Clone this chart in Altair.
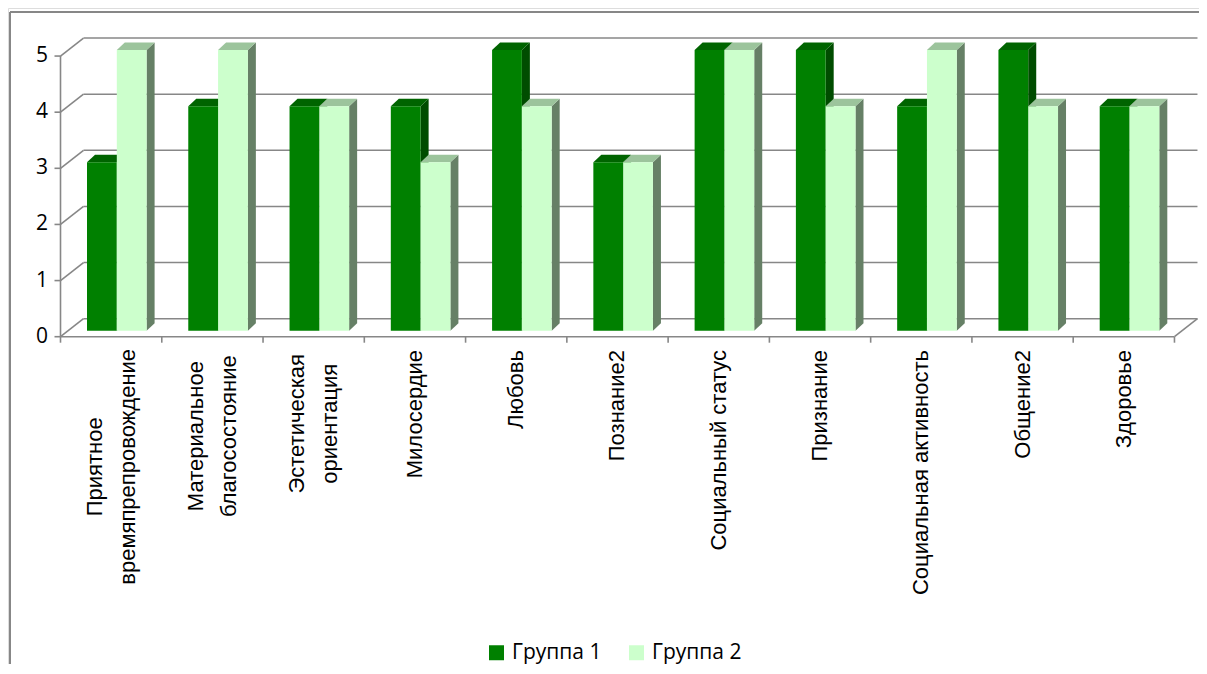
import altair as alt
import pandas as pd

# ---------------- data ----------------
categories = [
    "Приятное\nвремяпрепровождение",
    "Материальное\nблагосостояние",
    "Эстетическая\nориентация",
    "Милосердие",
    "Любовь",
    "Познание2",
    "Социальный статус",
    "Признание",
    "Социальная активность",
    "Общение2",
    "Здоровье",
]
group1 = [3, 4, 4, 4, 5, 3, 5, 5, 4, 5, 4]
group2 = [5, 5, 4, 3, 4, 3, 5, 4, 5, 4, 4]
series = ["Группа 1", "Группа 2"]
y_ticks = [0, 1, 2, 3, 4, 5]

# ---------------- geometry (pixels) ----------------
W, H = 1191, 656          # view size (page origin at 8,8)
ORG = 8
PX_X0, PX_XS = 60.5, 101.27   # page x of category 0, px per category
PX_Y0, PX_YS = 336.7, 56.13   # page y of value 0, px per value unit

def ux(px):
    return (px - PX_X0) / PX_XS

def vy(px):
    return (PX_Y0 - px) / PX_YS

xs = alt.Scale(domain=[ux(ORG), ux(ORG + W)], nice=False, zero=False)
ys = alt.Scale(domain=[vy(ORG + H), vy(ORG)], nice=False, zero=False)

BX, BY = 23 / PX_XS, 18 / PX_YS       # back wall offset
DX, DY = 8 / PX_XS, 7.5 / PX_YS       # bar depth
BASE = 6 / PX_YS                       # bar base lift
LEFT = 26.5 / PX_XS                    # first bar offset in category
BW = 29.8 / PX_XS                      # bar width
n = len(categories)

GRID = "#878787"
FRONT = {"Группа 1": "#008000", "Группа 2": "#ccffcc"}
TOP = {"Группа 1": "#006400", "Группа 2": "#9cc49c"}
SIDE = {"Группа 1": "#004c00", "Группа 2": "#668066"}

# ---------------- segments (walls, axes, ticks) ----------------
seg = []
for v in y_ticks:
    seg.append((BX, v + BY, n + BX, v + BY))      # back wall grid
    seg.append((0, v, BX, v + BY))                # left wall diagonal
    seg.append((-6 / PX_XS, v, 0, v))             # y tick
seg.append((0, 0, 0, max(y_ticks)))               # y axis line
seg.append((0, 0, n, 0))                          # x axis line (floor front)
seg.append((n, 0, n + BX, BY))                    # floor right edge
for i in range(n + 1):
    seg.append((i, 0, i, -6 / PX_YS))             # x ticks
seg_df = pd.DataFrame(seg, columns=["xa", "ya", "xb", "yb"])

segments = alt.Chart(seg_df).mark_rule(color=GRID, strokeWidth=1.6).encode(
    x=alt.X("xa:Q", scale=xs, axis=None),
    x2="xb:Q",
    y=alt.Y("ya:Q", scale=ys, axis=None),
    y2="yb:Q",
)

# ---------------- bars ----------------
fronts, faces = [], []
pid = 0
for gi, (name, vals) in enumerate(zip(series, [group1, group2])):
    for i, val in enumerate(vals):
        L = i + LEFT + gi * BW
        R = L + BW
        T = val + BASE
        fronts.append({"g": name, "x": L, "x2": R, "y": BASE, "y2": T, "gi": gi})
        # side face
        pid += 1
        faces.append({"pid": pid, "gi": gi, "fill": SIDE[name], "x": R, "hi": T, "lo": BASE})
        faces.append({"pid": pid, "gi": gi, "fill": SIDE[name], "x": R + DX, "hi": T + DY, "lo": BASE + DY})
        # top face
        pid += 1
        faces.append({"pid": pid, "gi": gi, "fill": TOP[name], "x": L, "hi": T, "lo": T})
        faces.append({"pid": pid, "gi": gi, "fill": TOP[name], "x": L + DX, "hi": T + DY, "lo": T})
        faces.append({"pid": pid, "gi": gi, "fill": TOP[name], "x": R, "hi": T + DY, "lo": T})
        faces.append({"pid": pid, "gi": gi, "fill": TOP[name], "x": R + DX, "hi": T + DY, "lo": T + DY})
front_df = pd.DataFrame(fronts)
face_df = pd.DataFrame(faces)

color_scale = alt.Scale(domain=series, range=[FRONT[s] for s in series])
legend = alt.Legend(
    title=None, orient="none", legendX=478, legendY=634, direction="horizontal",
    symbolType="square", symbolSize=225, symbolStrokeWidth=0, symbolOpacity=1,
    labelFont="Open Sans", labelFontSize=21, labelColor="#000000",
    labelOffset=5, columnPadding=24, padding=0,
)

def face_layer(gi):
    return alt.Chart(face_df[face_df.gi == gi]).mark_area(interpolate="linear").encode(
        x=alt.X("x:Q", scale=xs, axis=None),
        y=alt.Y("hi:Q", scale=ys, axis=None, stack=None),
        y2="lo:Q",
        detail="pid:N",
        fill=alt.Fill("fill:N", scale=None, legend=None),
    )

def front_layer(gi):
    return alt.Chart(front_df[front_df.gi == gi]).mark_rect().encode(
        x=alt.X("x:Q", scale=xs, axis=None),
        x2="x2:Q",
        y=alt.Y("y:Q", scale=ys, axis=None),
        y2="y2:Q",
        color=alt.Color("g:N", scale=color_scale, legend=legend),
    )

# ---------------- labels ----------------
ylab_df = pd.DataFrame({"v": y_ticks, "t": [str(v) for v in y_ticks]})
ylabels = alt.Chart(ylab_df).mark_text(
    align="right", baseline="middle", font="Open Sans", fontSize=21, color="#000000"
).encode(
    x=alt.value(48 - ORG),
    y=alt.Y("v:Q", scale=ys, axis=None),
    text="t:N",
)

LABEL_TOP = 350
CHAR_W = 12.3
rows = []
for i, c in enumerate(categories):
    lines = c.split("\n")
    if len(lines) == 1:
        rows.append({"u": i + 0.5, "ly": vy(LABEL_TOP), "t": c, "multi": 0})
    else:
        longest = max(len(s) for s in lines)
        rows.append({"u": i + 0.5, "ly": vy(LABEL_TOP + longest * CHAR_W / 2), "t": c, "multi": 1})
xlab_df = pd.DataFrame(rows)

xl_single = alt.Chart(xlab_df[xlab_df.multi == 0]).mark_text(
    angle=270, align="right", baseline="middle",
    font="Liberation Sans", fontSize=22, color="#000000",
).encode(
    x=alt.X("u:Q", scale=xs, axis=None),
    y=alt.Y("ly:Q", scale=ys, axis=None),
    text="t:N",
)
xl_multi = alt.Chart(xlab_df[xlab_df.multi == 1]).mark_text(
    angle=270, align="center", baseline="middle", lineBreak="\n", lineHeight=33,
    dy=-16.5, font="Liberation Sans", fontSize=22, color="#000000",
).encode(
    x=alt.X("u:Q", scale=xs, axis=None),
    y=alt.Y("ly:Q", scale=ys, axis=None),
    text="t:N",
)

# ---------------- outer frame ----------------
frame_df = pd.DataFrame({"k": [0]})
frame_top = alt.Chart(frame_df).mark_rule(color=GRID, strokeWidth=2).encode(
    x=alt.value(2), x2=alt.value(W), y=alt.value(4)
)
frame_left = alt.Chart(frame_df).mark_rule(color=GRID, strokeWidth=2).encode(
    x=alt.value(2), y=alt.value(4), y2=alt.value(H)
)

chart = alt.layer(
    frame_top, frame_left, segments,
    face_layer(0), front_layer(0), face_layer(1), front_layer(1),
    ylabels, xl_single, xl_multi,
).properties(
    width=W, height=H, padding=0,
    autosize=alt.AutoSizeParams(type="none"),
).configure_view(stroke=None).configure(background="#ffffff")

chart.save("out.html", embed_options={"renderer": "svg", "actions": False})
